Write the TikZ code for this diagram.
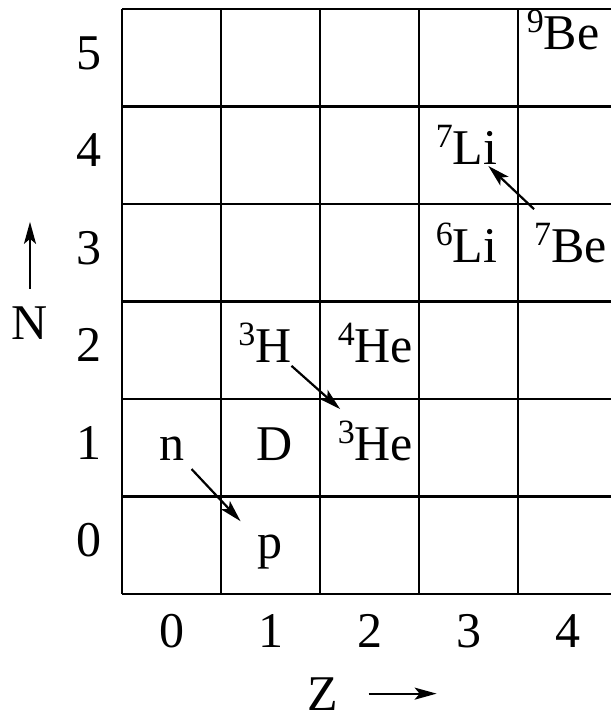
\documentclass[tikz,border=0pt]{standalone}
\usepackage{fontspec}
\setmainfont{Liberation Serif}
\usepackage{tikz}
\usetikzlibrary{positioning,arrows.meta,calc}
\newcommand{\nucl}[2]{\raisebox{0.34em}{\fontsize{17}{17}\selectfont #1}#2}
\tikzset{
  lbl/.style={font=\fontsize{25}{28}\selectfont,inner sep=1pt,anchor=base},
  gridline/.style={line width=1.1pt},
  decay/.style={-{Stealth[length=11pt,width=6pt,inset=2.5pt]},line width=1.1pt},
}

\begin{document}
\begin{tikzpicture}[x=49.5pt,y=48.75pt]
\useasboundingbox (-1.232,-1.272) rectangle (4.939,6.092);
% chart grid
\foreach \i in {0,...,4}
  \draw[gridline] (\i,0) -- (\i,6);
\foreach \j in {0,...,6}
  \draw[gridline] (0,\j) -- (4.939,\j);
% axis numbers
\foreach \i in {0,...,4}
  \node[lbl] (col\i) at (\i+0.51,-0.544) {\i};
\foreach \j in {0,...,5}
  \node[lbl] (row\j) at (-0.333,\j+0.38) {\j};
% axis titles
\node[lbl] (zlab) at (2.03,-1.19) {Z};
\node[lbl] (nlab) at (-0.929,2.605) {N};
\draw[decay] ([xshift=14pt]zlab.east) -- ++(0.687,0);
\draw[decay] ([yshift=8pt]nlab.north) -- ++(0,0.687);
% nuclides
\node[lbl] (be9) at (4.455,5.58) {\nucl{9}{Be}};
\node[lbl] (li7) at (3.48,4.40) {\nucl{7}{Li}};
\node[lbl] (li6) at (3.48,3.395) {\nucl{6}{Li}};
\node[lbl] (be7) at (4.53,3.395) {\nucl{7}{Be}};
\node[lbl] (h3) at (1.444,2.379) {\nucl{3}{H}};
\node[lbl] (he4) at (2.561,2.379) {\nucl{4}{He}};
\node[lbl] (he3) at (2.561,1.374) {\nucl{3}{He}};
\node[lbl] (n) at (0.505,1.374) {n};
\node[lbl] (d) at (1.540,1.374) {D};
\node[lbl] (p) at (1.495,0.359) {p};
% decays
\draw[decay] ($(n)!0.20!(p)$) -- ($(n)!0.70!(p)$);
\draw[decay] ($(h3)!0.24!(he3)$) -- ($(h3)!0.68!(he3)$);
\draw[decay] ($(be7)!0.35!(li7)$) -- ($(be7)!0.79!(li7)$);
\end{tikzpicture}
\end{document}
